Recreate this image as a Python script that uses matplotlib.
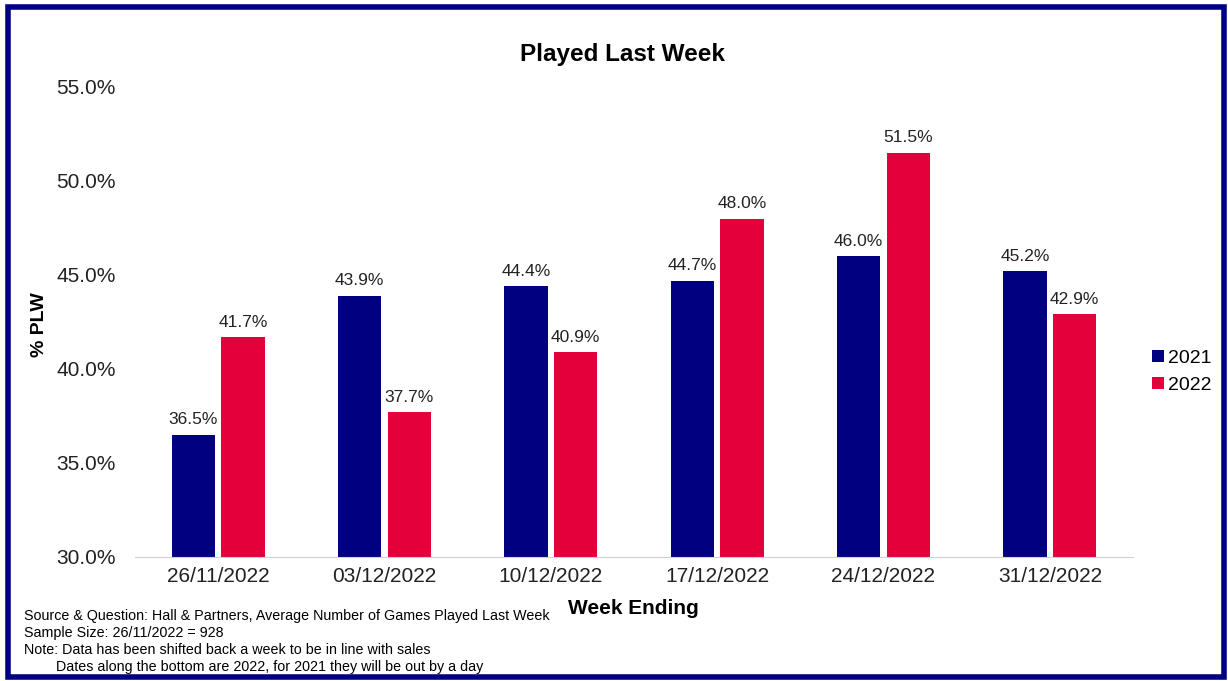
import numpy as np
import matplotlib.pyplot as plt
from matplotlib.patches import Rectangle

plt.rcParams['font.family'] = ['Liberation Sans', 'DejaVu Sans']

weeks = ['26/11/2022', '03/12/2022', '10/12/2022', '17/12/2022', '24/12/2022', '31/12/2022']
plw_2021 = [36.5, 43.9, 44.4, 44.7, 46.0, 45.2]
plw_2022 = [41.7, 37.7, 40.9, 48.0, 51.5, 42.9]
series_names = ['2021', '2022']
colors = ['#000080', '#E4003B']

notes = [
    'Source & Question: Hall & Partners, Average Number of Games Played Last Week',
    'Sample Size: 26/11/2022 = 928',
    'Note: Data has been shifted back a week to be in line with sales',
    '        Dates along the bottom are 2022, for 2021 they will be out by a day',
]

fig = plt.figure(figsize=(12.28, 6.81), dpi=100)
ax = fig.add_axes([135 / 1228, 1 - 557 / 681, (1133 - 135) / 1228, (557 - 87) / 681])

x = np.arange(len(weeks))
w = 0.26
gap = 0.02
b1 = ax.bar(x - w / 2 - gap, plw_2021, w, color=colors[0], label=series_names[0])
b2 = ax.bar(x + w / 2 + gap, plw_2022, w, color=colors[1], label=series_names[1])

# value labels above each bar
for bars in (b1, b2):
    for r in bars:
        ax.text(r.get_x() + r.get_width() / 2, r.get_height() + 0.4, f'{r.get_height():.1f}%',
                ha='center', va='bottom', fontsize=12.5, color='#222222')

ax.set_ylim(30, 55)
ax.set_xlim(-0.5, len(weeks) - 0.5)
ax.set_yticks(np.arange(30, 55.1, 5))
ax.set_yticklabels([f'{v:.1f}%' for v in np.arange(30, 55.1, 5)], fontsize=15)
ax.set_xticks(x)
ax.set_xticklabels(weeks, fontsize=15)
ax.tick_params(axis='both', length=0, colors='#222222')
ax.tick_params(axis='y', pad=14)
ax.tick_params(axis='x', pad=7)
for s in ['top', 'right', 'left']:
    ax.spines[s].set_visible(False)
ax.spines['bottom'].set_color('#d0d0d0')

fig.text(622 / 1228, 1 - 55 / 681, 'Played Last Week', ha='center', va='center',
         fontsize=17.5, fontweight='bold')
fig.text(633 / 1228, 1 - 609 / 681, 'Week Ending', ha='center', va='center',
         fontsize=15, fontweight='bold')
fig.text(40 / 1228, 1 - 325 / 681, '% PLW', ha='center', va='center', rotation=90,
         fontsize=14, fontweight='bold')

ax.legend(loc='center left', bbox_to_anchor=(1148 / 1228, 1 - 372 / 681),
          bbox_transform=fig.transFigure, frameon=False, fontsize=14,
          handlelength=0.6, handleheight=0.6, handletextpad=0.25, labelspacing=0.5,
          borderpad=0.2, borderaxespad=0)

for i, line in enumerate(notes):
    fig.text(24 / 1228, 1 - (616 + 17 * i) / 681, line, ha='left', va='center', fontsize=10.3)

fig.patches.append(Rectangle((8 / 1228, 4 / 681), 1216 / 1228, 670 / 681,
                             transform=fig.transFigure, fill=False,
                             edgecolor='#000080', linewidth=4))

fig.savefig('out.png', dpi=100, facecolor='white')
